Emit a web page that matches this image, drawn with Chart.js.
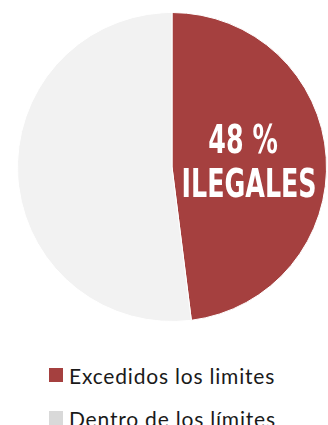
<!DOCTYPE html>
<html lang="es">
<head>
<meta charset="utf-8">
<script src="https://cdn.jsdelivr.net/npm/chart.js@4"></script>
<style>
  html, body { margin: 0; padding: 0; background: #fff; }
  #wrap { position: relative; width: 328px; height: 425px; overflow: hidden; }
  #pie { position: absolute; left: 0; top: 0; }
  .leyenda { position: absolute; left: 49px; height: 14px; display: flex; align-items: center;
             font-family: Lato, "Open Sans", sans-serif; font-size: 21px; letter-spacing: 0.8px;
             color: #1a1a1a; white-space: nowrap; }
  .leyenda i { display: inline-block; width: 14px; height: 14px; margin-right: 6px; }
</style>
</head>
<body>
<div id="wrap">
  <canvas id="pie" width="328" height="334"></canvas>
</div>
<script>
const categorias = ['Excedidos los limites', 'Dentro de los límites'];
const porcentajes = [48, 52];
const coloresPorcion = ['#A5403F', '#F2F2F2'];
const coloresLeyenda = ['#A5403F', '#D9D9D9'];
const etiqueta = 'ILEGALES';

// texto blanco dentro de la porción roja
const rotulo = {
  id: 'rotulo',
  afterDatasetsDraw(chart) {
    const arc = chart.getDatasetMeta(0).data[0];
    const p = arc.getCenterPoint();
    const ctx = chart.ctx;
    ctx.save();
    ctx.fillStyle = '#fff';
    ctx.textAlign = 'center';
    ctx.textBaseline = 'alphabetic';
    ctx.font = 'bold 39px "DejaVu Sans Condensed", "DejaVu Sans", sans-serif';
    const sx = 135 / ctx.measureText(etiqueta).width;
    ctx.translate(p.x, p.y);
    ctx.scale(sx, 1);
    ctx.fillText(`${porcentajes[0]} %`, -6 / sx, -9);
    ctx.fillText(etiqueta, 0, 35);
    ctx.restore();
  }
};

new Chart(document.getElementById('pie'), {
  type: 'pie',
  data: {
    labels: categorias,
    datasets: [{
      data: porcentajes,
      backgroundColor: coloresPorcion,
      borderColor: '#fff',
      borderWidth: 1
    }]
  },
  options: {
    responsive: false,
    animation: false,
    layout: { padding: { left: 16, right: 0, top: 12, bottom: 12 } },
    plugins: { legend: { display: false }, tooltip: { enabled: false } }
  },
  plugins: [rotulo]
});

// leyenda apilada debajo del gráfico
const wrap = document.getElementById('wrap');
categorias.forEach((c, i) => {
  const item = document.createElement('div');
  item.className = 'leyenda';
  item.style.top = `${368 + i * 43}px`;
  item.innerHTML = `<i style="background:${coloresLeyenda[i]}"></i>${c}`;
  wrap.appendChild(item);
});
</script>
</body>
</html>
